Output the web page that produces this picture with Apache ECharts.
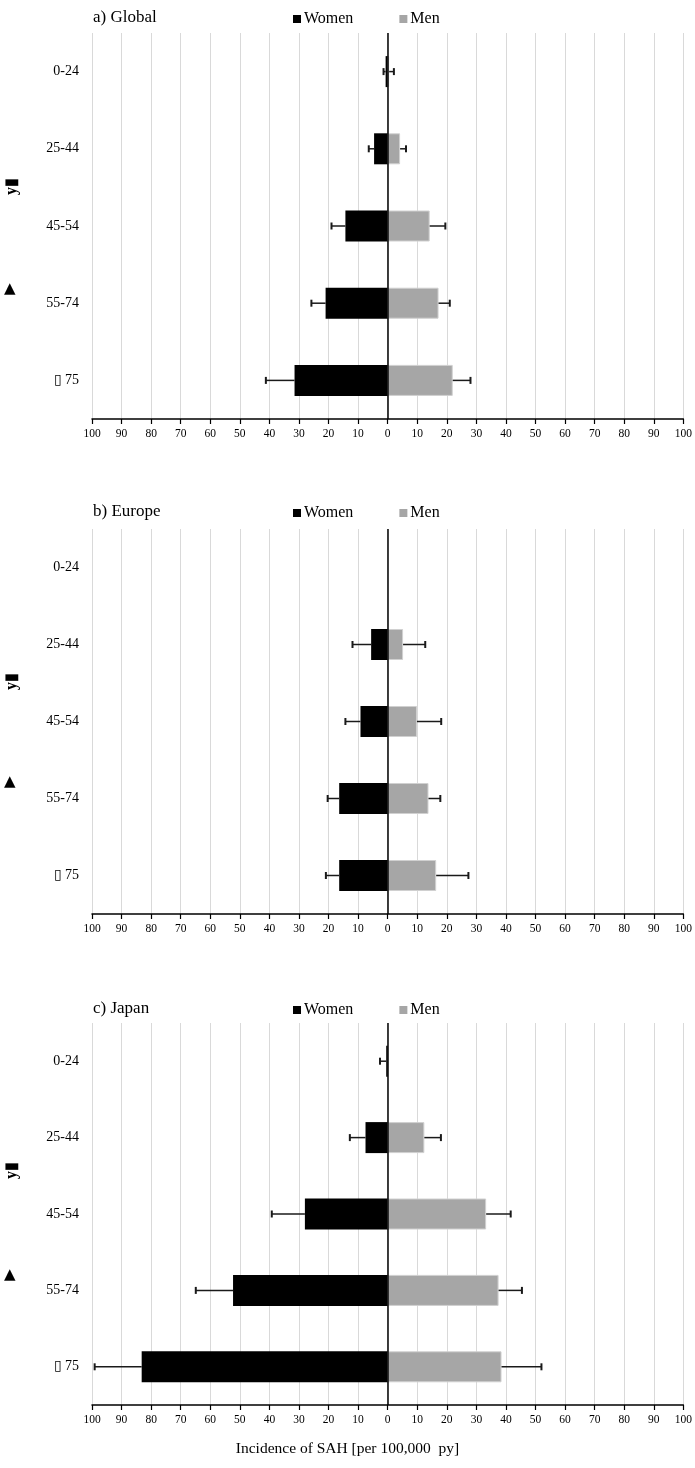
<!DOCTYPE html>
<html>
<head>
<meta charset="utf-8">
<script src="https://cdn.jsdelivr.net/npm/echarts@6/dist/echarts.min.js"></script>
<style>
html,body{margin:0;padding:0;background:#fff;}
#chart{width:695px;height:1468px;}
</style>
</head>
<body>
<div id="chart"></div>
<script>
// ---- data ----
var categories = ['0-24', '25-44', '45-54', '55-74', '\u25AF 75'];
var xTicks = [-100, -90, -80, -70, -60, -50, -40, -30, -20, -10, 0, 10, 20, 30, 40, 50, 60, 70, 80, 90, 100];
var panelTitles = ['a) Global', 'b) Europe', 'c) Japan'];

var globalWomen = [0.7, 4.6, 14.3, 21.0, 31.5];
var globalWomenErr = [1.4, 6.4, 19.0, 25.8, 41.2];
var globalMen = [0.5, 4.2, 14.2, 17.2, 22.0];
var globalMenErr = [2.1, 6.2, 19.5, 21.0, 28.0];

var europeWomen = [null, 5.6, 9.2, 16.4, 16.4];
var europeWomenErr = [null, 11.9, 14.3, 20.3, 20.9];
var europeMen = [null, 5.2, 9.9, 13.8, 16.4];
var europeMenErr = [null, 12.7, 18.1, 17.8, 27.3];

var japanWomen = [0.5, 7.5, 28.0, 52.3, 83.2];
var japanWomenErr = [2.6, 12.8, 39.2, 64.9, 99.1];
var japanMen = [null, 12.4, 33.3, 37.5, 38.5];
var japanMenErr = [null, 18.0, 41.6, 45.4, 52.0];

var panels = [
  {w: globalWomen, we: globalWomenErr, m: globalMen, me: globalMenErr},
  {w: europeWomen, we: europeWomenErr, m: europeMen, me: europeMenErr},
  {w: japanWomen, we: japanWomenErr, m: japanMen, me: japanMenErr}
];

// ---- layout ----
var FONT = 'Liberation Serif';
var gridTops = [33, 529, 1023];
var gridHeights = [386, 385, 382];
var titleY = [14, 508, 1005];
var ylabY = [[188, 290], [683, 783], [1172, 1276]];

var chart = echarts.init(document.getElementById('chart'), null, {renderer: 'canvas'});

function errRender(params, api) {
  var v = api.value(0), e = api.value(2), c = api.value(1);
  if (v == null || e == null || isNaN(e)) return;
  var a = api.coord([v, c]);
  var b = api.coord([e, c]);
  var h = 7;
  return {
    type: 'group',
    children: [
      {type: 'line', shape: {x1: a[0], y1: a[1], x2: b[0], y2: b[1]}, style: {stroke: '#1a1a1a', lineWidth: 1.5}},
      {type: 'line', shape: {x1: b[0], y1: b[1] - h / 2, x2: b[0], y2: b[1] + h / 2}, style: {stroke: '#1a1a1a', lineWidth: 2}}
    ]
  };
}

var grids = [], xAxes = [], yAxes = [], series = [], titles = [], legends = [], graphics = [];

panels.forEach(function (p, i) {
  grids.push({left: 92, right: 10, top: gridTops[i], height: gridHeights[i], containLabel: false});
  xAxes.push({
    type: 'value', gridIndex: i, min: -100, max: 100, interval: 10,
    axisLine: {show: true, lineStyle: {color: '#000', width: 1.5}},
    axisTick: {show: true, length: 5, lineStyle: {color: '#000', width: 1.2}},
    axisLabel: {color: '#000', fontFamily: FONT, fontSize: 11.5, margin: 9,
      formatter: function (v) { return String(Math.abs(v)); }},
    splitLine: {show: true, lineStyle: {color: '#d9d9d9', width: 1}}
  });
  yAxes.push({
    type: 'category', gridIndex: i, data: categories, inverse: true,
    axisLine: {show: false}, axisTick: {show: false},
    axisLabel: {color: '#000', fontFamily: FONT, fontSize: 14, margin: 13},
    splitLine: {show: false}
  });
  series.push({
    name: 'Women', type: 'bar', xAxisIndex: i, yAxisIndex: i,
    data: p.w.map(function (v) { return v == null ? '-' : -v; }),
    barWidth: 31, barGap: '-100%',
    itemStyle: {color: '#000'},
    markLine: {silent: true, symbol: 'none', label: {show: false},
      lineStyle: {color: '#000', width: 1.5, type: 'solid'},
      data: [{xAxis: 0}], z: 10}
  });
  series.push({
    name: 'Men', type: 'bar', xAxisIndex: i, yAxisIndex: i,
    data: p.m.map(function (v) { return v == null ? '-' : v; }),
    barWidth: 31, barGap: '-100%',
    itemStyle: {color: '#a6a6a6', borderColor: '#d0d0d0', borderWidth: 1}
  });
  var errData = [];
  categories.forEach(function (c, k) {
    if (p.w[k] != null && p.we[k] != null) errData.push([-p.w[k], k, -p.we[k]]);
    if (p.m[k] != null && p.me[k] != null) errData.push([p.m[k], k, p.me[k]]);
  });
  series.push({
    type: 'custom', xAxisIndex: i, yAxisIndex: i, renderItem: errRender,
    data: errData, encode: {x: [0, 2], y: 1}, z: 5, silent: true
  });
  titles.push({text: panelTitles[i], left: 88, top: titleY[i] - 10,
    textStyle: {fontFamily: FONT, fontSize: 17, fontWeight: 'normal', color: '#000'}});
  legends.push({data: [{name: 'Women', itemStyle: {borderWidth: 0}}, {name: 'Men', itemStyle: {borderWidth: 0}}],
    left: 288, top: titleY[i] - 8, icon: 'rect',
    itemWidth: 8, itemHeight: 8, itemGap: 46,
    textStyle: {fontFamily: FONT, fontSize: 16, color: '#000', padding: [0, 0, 0, -2]}});
  graphics.push({type: 'text', left: 4, top: ylabY[i][0] - 10, rotation: Math.PI / 2,
    style: {text: 'y\u25AE', font: 'bold 16px "Liberation Serif"', fill: '#000'}});
  graphics.push({type: 'text', left: 4, top: ylabY[i][1] - 8,
    style: {text: '\u25B2', font: 'bold 15px "DejaVu Sans"', fill: '#000'}});
});

graphics.push({type: 'text', left: 'center', top: 1441,
  style: {text: 'Incidence of SAH [per 100,000  py]', font: '15.5px "Liberation Serif"', fill: '#000'}});

chart.setOption({
  animation: false,
  backgroundColor: '#fff',
  title: titles,
  legend: legends,
  grid: grids,
  xAxis: xAxes,
  yAxis: yAxes,
  series: series,
  graphic: graphics
});
</script>
</body>
</html>
